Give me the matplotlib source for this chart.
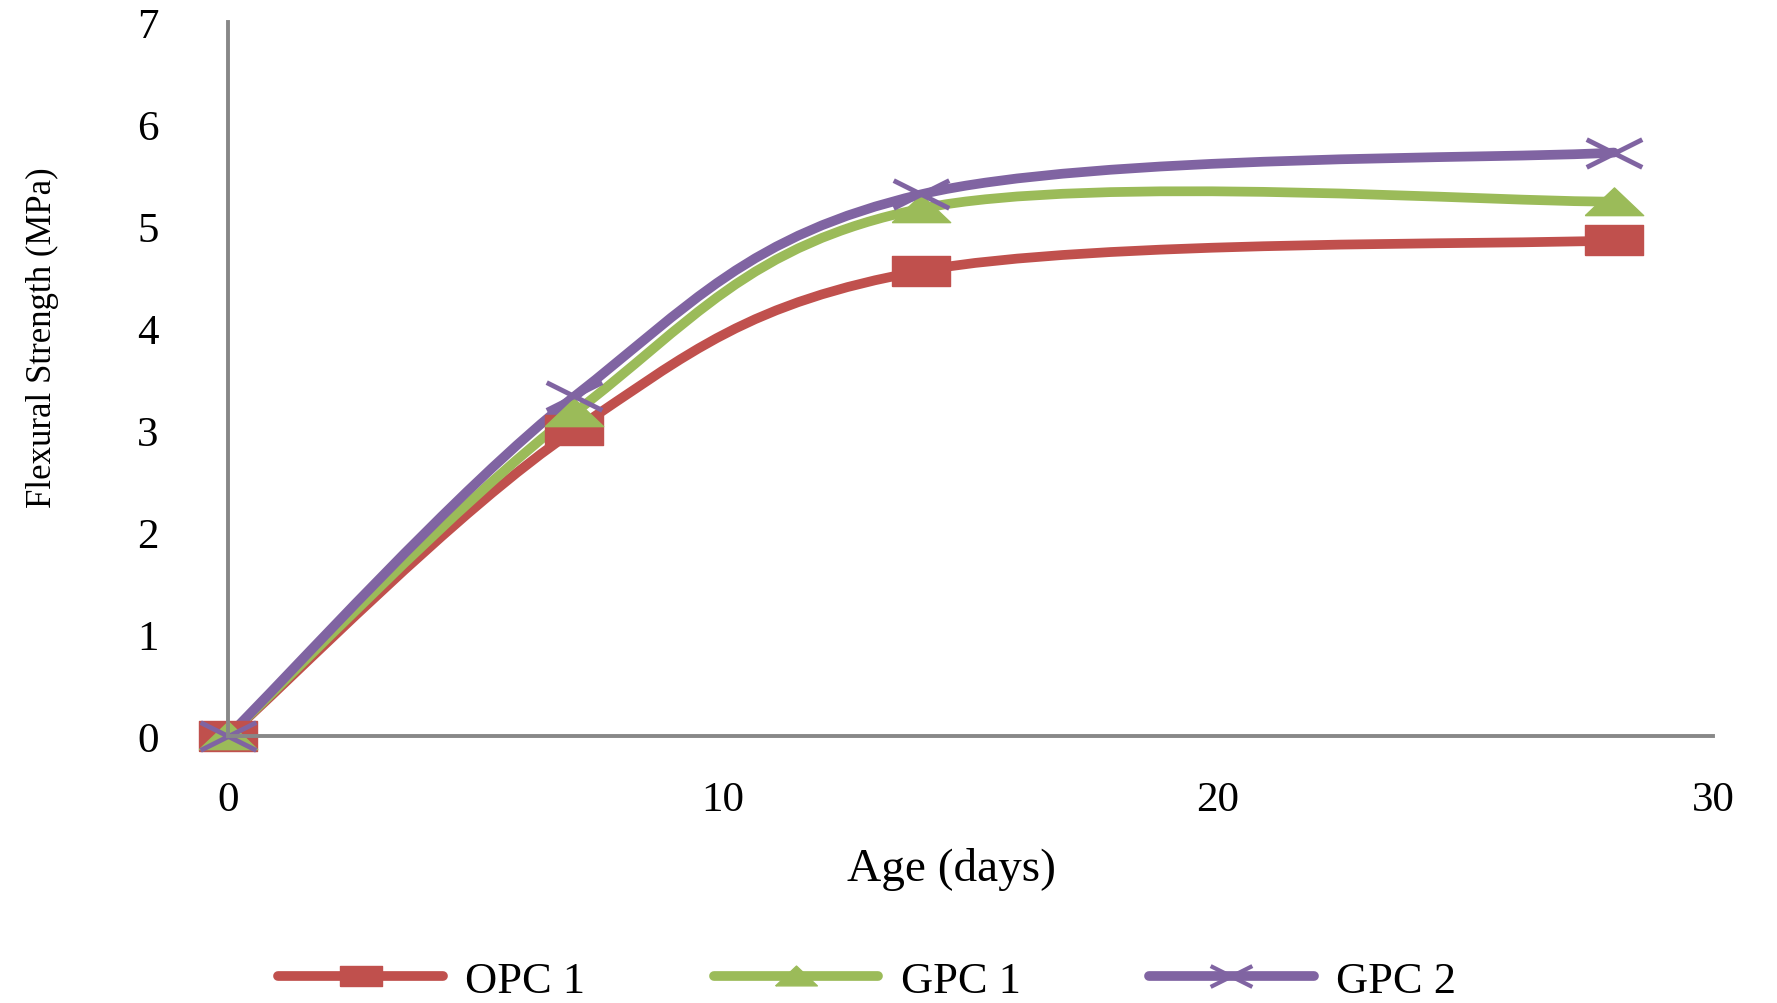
import numpy as np
import matplotlib
matplotlib.use("Agg")
import matplotlib.pyplot as plt
from matplotlib.path import Path
from matplotlib.patches import PathPatch
from matplotlib.lines import Line2D

# data
age = [0, 7, 14, 28]
opc1 = [0.0, 3.0, 4.56, 4.86]
gpc1 = [0.0, 3.17, 5.17, 5.24]
gpc2 = [0.0, 3.33, 5.31, 5.72]
series = [opc1, gpc1, gpc2]
names = ["OPC 1", "GPC 1", "GPC 2"]
colors = ["#C0504D", "#9BBB59", "#8064A2"]
xticks = [0, 10, 20, 30]
yticks = [0, 1, 2, 3, 4, 5, 6, 7]

plt.rcParams['font.family'] = ['Liberation Serif', 'DejaVu Serif']


def smooth_path(xs, ys):
    # excel style smoothed line as bezier segments
    p = np.column_stack([xs, ys]).astype(float)
    n = len(p)
    verts = [p[0]]
    codes = [Path.MOVETO]
    for i in range(n - 1):
        p0 = p[max(i - 1, 0)]
        p1 = p[i]
        p2 = p[i + 1]
        p3 = p[min(i + 2, n - 1)]
        verts += [p1 + (p2 - p0) / 6, p2 - (p3 - p1) / 6, p2]
        codes += [Path.CURVE4] * 3
    return Path(verts, codes)


# wide markers (the original picture is stretched sideways)
sq = Path([(-1, -0.5), (1, -0.5), (1, 0.5), (-1, 0.5), (-1, -0.5)])
tri = Path([(-1, -0.45), (1, -0.45), (0, 0.5), (-1, -0.45)])
cross = Path([(-1, -0.5), (1, 0.5), (-1, 0.5), (1, -0.5)],
             [Path.MOVETO, Path.LINETO, Path.MOVETO, Path.LINETO])
markers = [sq, tri, cross]

fig = plt.figure(figsize=(17.77, 10.04), dpi=100)
ax = fig.add_axes([0.1283, 0.2659, 0.8357, 0.7112])

handles = []
for vals, name, col, mk in zip(series, names, colors, markers):
    ax.add_patch(PathPatch(smooth_path(age, vals), fill=False, edgecolor=col,
                           lw=7, capstyle='round', joinstyle='round', clip_on=False))
    if mk is cross:
        ax.plot(age, vals, ls='none', marker=mk, ms=40, mfc='none', mec=col,
                mew=3.5, clip_on=False)
        h = Line2D([], [], color=col, lw=7, solid_capstyle='round', marker=mk,
                   ms=30, mfc='none', mec=col, mew=3)
    else:
        ax.plot(age, vals, ls='none', marker=mk, ms=42, mfc=col, mec=col,
                mew=1, clip_on=False)
        h = Line2D([], [], color=col, lw=7, solid_capstyle='round', marker=mk,
                   ms=30, mfc=col, mec=col)
    handles.append(h)

ax.set_xlim(0, 30)
ax.set_ylim(0, 7)
ax.set_xticks(xticks)
ax.set_yticks(yticks)
ax.tick_params(length=0, labelsize=31)
ax.tick_params(axis='x', pad=32)
ax.tick_params(axis='y', pad=50)
for s in ['top', 'right']:
    ax.spines[s].set_visible(False)
for s in ['left', 'bottom']:
    ax.spines[s].set_color('#888888')
    ax.spines[s].set_linewidth(2.8)

fig.text(0.024, 0.664, "Flexural Strength (MPa)", rotation=90, fontsize=25,
         ha='center', va='center')
fig.text(0.5357, 0.1335, "Age (days)", fontsize=34, ha='center', va='center')

fig.legend(handles, names, ncol=3, loc='center', bbox_to_anchor=(0.488, 0.022),
           frameon=False, fontsize=32, handlelength=3.7, columnspacing=2.9,
           handletextpad=0.5)

plt.savefig("out.png", dpi=100)
